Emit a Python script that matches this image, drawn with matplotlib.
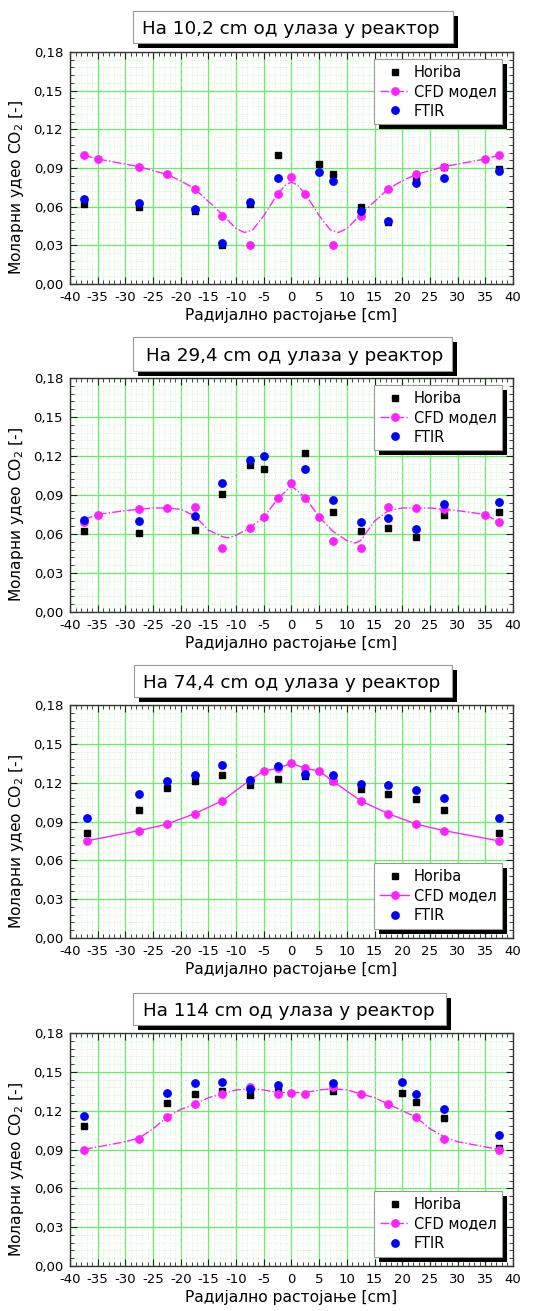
import numpy as np
import matplotlib
matplotlib.use("Agg")
import matplotlib.pyplot as plt
from matplotlib.patches import Rectangle
from matplotlib.transforms import IdentityTransform
from matplotlib.ticker import MultipleLocator, AutoMinorLocator, FuncFormatter

plt.rcParams['font.family'] = ['DejaVu Sans']
plt.rcParams['axes.unicode_minus'] = False

titles = ['На 10,2 cm од улаза у реактор',
          'На 29,4 cm од улаза у реактор',
          'На 74,4 cm од улаза у реактор',
          'На 114 cm од улаза у реактор']

# --- panel 1 (10,2 cm) ---
hor1_x = [-37.5, -27.5, -17.5, -12.5, -7.5, -2.5, 5, 7.5, 12.5, 17.5, 22.5, 27.5, 37.5]
hor1_y = [0.062, 0.060, 0.057, 0.030, 0.062, 0.100, 0.093, 0.085, 0.060, 0.048, 0.082, 0.091, 0.089]
ftir1_x = [-37.5, -27.5, -17.5, -12.5, -7.5, -2.5, 5, 7.5, 12.5, 17.5, 22.5, 27.5, 37.5]
ftir1_y = [0.066, 0.063, 0.058, 0.032, 0.064, 0.082, 0.087, 0.080, 0.057, 0.049, 0.078, 0.082, 0.088]
cfd1_x = [-37.5, -35, -27.5, -22.5, -17.5, -12.5, -7.5, -2.5, 0, 2.5, 7.5, 12.5, 17.5, 22.5, 27.5, 35, 37.5]
cfd1_y = [0.100, 0.097, 0.091, 0.085, 0.074, 0.053, 0.030, 0.070, 0.083, 0.070, 0.030, 0.053, 0.074, 0.085, 0.091, 0.097, 0.100]
line1_x = [-37.5, -35, -30, -27.5, -25, -22.5, -20, -17.5, -15, -12.5, -10, -8.5, -7, -5, -2.5, -1, 0,
           1, 2.5, 5, 7, 8.5, 10, 12.5, 15, 17.5, 20, 22.5, 25, 27.5, 30, 35, 37.5]
line1_y = [0.100, 0.097, 0.093, 0.091, 0.088, 0.085, 0.080, 0.074, 0.064, 0.054, 0.043, 0.040, 0.042, 0.053,
           0.070, 0.077, 0.079, 0.077, 0.070, 0.053, 0.042, 0.040, 0.043, 0.054, 0.064, 0.074, 0.080, 0.085,
           0.088, 0.091, 0.093, 0.097, 0.100]

# --- panel 2 (29,4 cm) ---
hor2_x = [-37.5, -27.5, -17.5, -12.5, -7.5, -5, 2.5, 7.5, 12.5, 17.5, 22.5, 27.5, 37.5]
hor2_y = [0.062, 0.061, 0.063, 0.091, 0.113, 0.110, 0.122, 0.077, 0.062, 0.065, 0.058, 0.075, 0.077]
ftir2_x = [-37.5, -27.5, -17.5, -12.5, -7.5, -5, 2.5, 7.5, 12.5, 17.5, 22.5, 27.5, 37.5]
ftir2_y = [0.071, 0.070, 0.074, 0.099, 0.117, 0.120, 0.110, 0.086, 0.069, 0.072, 0.064, 0.083, 0.085]
cfd2_x = [-37.5, -35, -27.5, -22.5, -17.5, -12.5, -7.5, -5, -2.5, 0, 2.5, 5, 7.5, 12.5, 17.5, 22.5, 27.5, 35, 37.5]
cfd2_y = [0.069, 0.075, 0.079, 0.080, 0.081, 0.049, 0.065, 0.073, 0.088, 0.099, 0.088, 0.073, 0.055, 0.049,
          0.081, 0.080, 0.079, 0.075, 0.069]
line2_x = [-37.5, -35, -30, -25, -22.5, -20, -17.5, -15, -12.5, -11.5, -10, -7.5, -5, -2.5, 0, 2.5, 5, 7.5,
           10, 11.5, 12.5, 15, 17.5, 20, 22.5, 25, 27.5, 30, 35, 37.5]
line2_y = [0.071, 0.075, 0.078, 0.080, 0.080, 0.079, 0.074, 0.063, 0.058, 0.057, 0.059, 0.065, 0.073, 0.087,
           0.097, 0.088, 0.073, 0.062, 0.055, 0.053, 0.055, 0.070, 0.078, 0.080, 0.080, 0.080, 0.079, 0.078,
           0.075, 0.069]

# --- panel 3 (74,4 cm) ---
hor3_x = [-37, -27.5, -22.5, -17.5, -12.5, -7.5, -2.5, 2.5, 7.5, 12.5, 17.5, 22.5, 27.5, 37.5]
hor3_y = [0.081, 0.099, 0.116, 0.121, 0.126, 0.118, 0.123, 0.125, 0.121, 0.115, 0.111, 0.107, 0.099, 0.081]
ftir3_x = [-37, -27.5, -22.5, -17.5, -12.5, -7.5, -2.5, 2.5, 7.5, 12.5, 17.5, 22.5, 27.5, 37.5]
ftir3_y = [0.093, 0.111, 0.121, 0.126, 0.134, 0.122, 0.133, 0.127, 0.126, 0.119, 0.118, 0.114, 0.108, 0.093]
cfd3_x = [-37, -27.5, -22.5, -17.5, -12.5, -7.5, -5, -2.5, 0, 2.5, 5, 7.5, 12.5, 17.5, 22.5, 27.5, 37.5]
cfd3_y = [0.075, 0.083, 0.088, 0.096, 0.106, 0.122, 0.129, 0.131, 0.135, 0.131, 0.129, 0.121, 0.106, 0.096,
          0.088, 0.083, 0.075]
line3_x = cfd3_x
line3_y = cfd3_y

# --- panel 4 (114 cm) ---
hor4_x = [-37.5, -22.5, -17.5, -12.5, -7.5, -2.5, 7.5, 20, 22.5, 27.5, 37.5]
hor4_y = [0.108, 0.126, 0.133, 0.135, 0.132, 0.135, 0.135, 0.134, 0.127, 0.114, 0.091]
ftir4_x = [-37.5, -22.5, -17.5, -12.5, -7.5, -2.5, 7.5, 20, 22.5, 27.5, 37.5]
ftir4_y = [0.116, 0.134, 0.141, 0.142, 0.137, 0.140, 0.141, 0.142, 0.133, 0.121, 0.101]
cfd4_x = [-37.5, -27.5, -22.5, -17.5, -12.5, -7.5, -2.5, 0, 2.5, 7.5, 12.5, 17.5, 22.5, 27.5, 37.5]
cfd4_y = [0.090, 0.098, 0.115, 0.125, 0.133, 0.138, 0.133, 0.134, 0.133, 0.138, 0.133, 0.125, 0.115, 0.098, 0.090]
line4_x = [-37.5, -30, -27.5, -25, -22.5, -20, -17.5, -15, -12.5, -10, -7.5, -5, -2.5, 0, 2.5, 5, 7.5, 10,
           12.5, 15, 17.5, 20, 22.5, 25, 27.5, 30, 37.5]
line4_y = [0.090, 0.096, 0.099, 0.106, 0.115, 0.121, 0.125, 0.130, 0.133, 0.136, 0.137, 0.136, 0.134, 0.134,
           0.134, 0.136, 0.137, 0.136, 0.133, 0.130, 0.125, 0.120, 0.115, 0.106, 0.100, 0.096, 0.090]

panels = [
    (hor1_x, hor1_y, ftir1_x, ftir1_y, cfd1_x, cfd1_y, line1_x, line1_y, '-.', 'upper'),
    (hor2_x, hor2_y, ftir2_x, ftir2_y, cfd2_x, cfd2_y, line2_x, line2_y, '-.', 'upper'),
    (hor3_x, hor3_y, ftir3_x, ftir3_y, cfd3_x, cfd3_y, line3_x, line3_y, '-', 'lower'),
    (hor4_x, hor4_y, ftir4_x, ftir4_y, cfd4_x, cfd4_y, line4_x, line4_y, '-.', 'lower'),
]

W, H = 555, 1311
fig = plt.figure(figsize=(W / 100, H / 100), dpi=100)
fig.patch.set_facecolor('white')

# pixel boxes (left, top, right, bottom)
ax_px = [(70, 52, 513, 284), (70, 378, 513, 612), (70, 705, 513, 938), (70, 1033, 513, 1266)]
title_box = [(133, 11, 453, 43), (133, 337, 452, 371), (134, 665, 452, 697), (133, 993, 446, 1025)]
title_x = [142, 146, 143, 143]

comma = FuncFormatter(lambda v, p: ('%.2f' % v).replace('.', ','))


def px_rect(x0, y0, x1, y1, **kw):
    # rectangle given in image pixels from the top-left corner
    return Rectangle((x0, H - y1), x1 - x0, y1 - y0, transform=IdentityTransform(), **kw)


legends = []
for i, (hx, hy, fx, fy, cx, cy, lx, ly, ls, loc) in enumerate(panels):
    l, t, r, b = ax_px[i]
    ax = fig.add_axes([l / W, 1 - b / H, (r - l) / W, (b - t) / H])
    ax.set_xlim(-40, 40)
    ax.set_ylim(0, 0.18)
    ax.xaxis.set_major_locator(MultipleLocator(5))
    ax.xaxis.set_minor_locator(AutoMinorLocator(5))
    ax.yaxis.set_major_locator(MultipleLocator(0.03))
    ax.yaxis.set_minor_locator(AutoMinorLocator(5))
    ax.yaxis.set_major_formatter(comma)
    ax.grid(which='major', color='#66ee66', lw=0.9)
    ax.grid(which='minor', color='#c4f5c4', lw=0.6, ls=':')
    ax.set_axisbelow(True)
    ax.tick_params(which='both', direction='in', top=True, right=True, labelsize=9.5,
                   color='#222222', pad=5)
    ax.tick_params(which='major', length=5)
    ax.tick_params(which='minor', length=3)
    for s in ax.spines.values():
        s.set_color('#333333')
        s.set_linewidth(1.0)

    ax.plot(hx, hy, 's', color='black', ms=4, zorder=3)
    ax.plot(lx, ly, ls, color='#ff22ff', lw=1.0, zorder=3)
    ax.plot(cx, cy, 'o', color='#ff22ff', ms=5.3, zorder=4)
    ax.plot(fx, fy, 'o', color='#0000ff', ms=5.3, zorder=5)

    h_hor = plt.Line2D([], [], ls='none', marker='s', color='black', ms=4)
    h_cfd = plt.Line2D([], [], ls=ls, marker='o', color='#ff22ff', ms=5.3, lw=1.0)
    h_ftir = plt.Line2D([], [], ls='none', marker='o', color='#0000ff', ms=5.3)
    if loc == 'upper':
        bba = (0.976, 0.97)
        lloc = 'upper right'
    else:
        bba = (0.976, 0.04)
        lloc = 'lower right'
    leg = ax.legend([h_hor, h_cfd, h_ftir], ['Horiba', 'CFD модел', 'FTIR'], loc=lloc,
                    bbox_to_anchor=bba, borderaxespad=0, fontsize=10.5, frameon=True,
                    fancybox=False, edgecolor='#999999', framealpha=1, borderpad=0.4,
                    handlelength=2.0, handletextpad=0.3, labelspacing=0.3)
    leg.get_frame().set_linewidth(0.8)
    leg.set_zorder(10)
    legends.append((ax, leg))

    ax.set_xlabel('Радијално растојање [cm]', fontsize=11.2, labelpad=3)
    ax.set_ylabel('Моларни удео CO$_2$ [-]', fontsize=11.2)
    ax.yaxis.set_label_coords(-0.10, 0.415)

    # title box with a black drop shadow
    x0, y0, x1, y1 = title_box[i]
    fig.patches.append(px_rect(x0 + 5, y0 + 5, x1 + 5, y1 + 5, fc='black', ec='none', zorder=1))
    fig.patches.append(px_rect(x0, y0, x1, y1, fc='white', ec='#999999', lw=0.8, zorder=2))
    fig.text(title_x[i] / W, 1 - (y0 + y1) / 2 / H, titles[i], ha='left', va='center_baseline',
             fontsize=13.2, zorder=3)

fig.canvas.draw()
renderer = fig.canvas.get_renderer()
for ax, leg in legends:
    bb = leg.get_frame().get_window_extent(renderer)
    rect = Rectangle((bb.x0 + 5, bb.y0 - 5), bb.width, bb.height, transform=IdentityTransform(),
                     fc='black', ec='none', zorder=9, clip_on=False)
    ax.add_artist(rect)

fig.savefig('out.png', dpi=100, facecolor='white')
